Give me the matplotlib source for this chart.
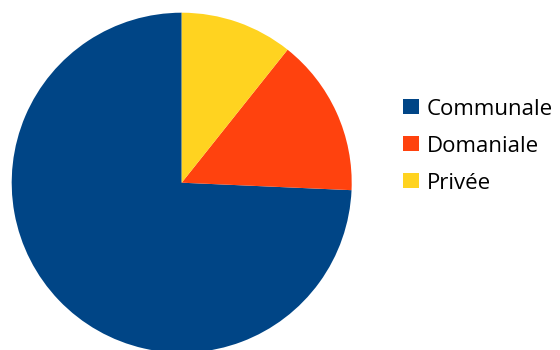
import matplotlib.pyplot as plt
from matplotlib.patches import Patch

labels = ['Communale', 'Domaniale', 'Privée']
values = [74.3, 15.0, 10.7]
colors = ['#004586', '#ff420e', '#ffd320']

plt.rcParams['font.family'] = ['Open Sans', 'DejaVu Sans']

fig = plt.figure(figsize=(5.6, 3.5), dpi=100)
# pie centre ~ (181.7, 182.7) px, radius 170 px
ax = fig.add_axes([11.7 / 560, (350 - 182.7 - 170) / 350, 340 / 560, 340 / 350])
ax.pie(values, colors=colors, startangle=90, counterclock=True, radius=1,
       wedgeprops=dict(linewidth=0))
ax.set_xlim(-1, 1)
ax.set_ylim(-1, 1)
ax.set_aspect('equal')
ax.axis('off')

handles = [Patch(facecolor=c, edgecolor='none') for c in colors]
fig.legend(handles, labels, loc='upper left', bbox_to_anchor=(402.7 / 560, (350 - 98.5) / 350),
           frameon=False, fontsize=16, borderpad=0, borderaxespad=0,
           handlelength=0.72, handleheight=0.68, handletextpad=0.35, labelspacing=0.72)

fig.savefig('out.png', dpi=100)
